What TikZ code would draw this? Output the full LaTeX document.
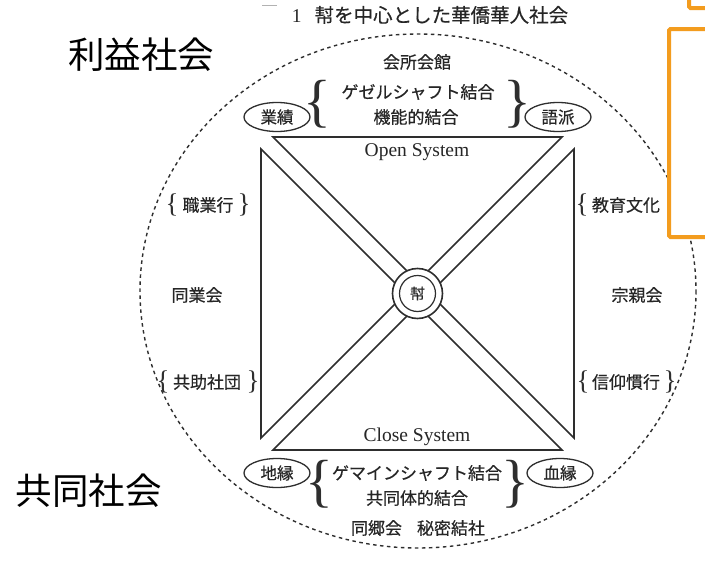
\documentclass[tikz,border=0pt]{standalone}
\usepackage{fontspec}
\newfontfamily\jp[FakeBold=0.4]{Noto Sans CJK JP}
\newfontfamily\jpbig{Noto Sans CJK JP}
\newfontfamily\serifen{Liberation Serif}
\usetikzlibrary{shapes.geometric}
\definecolor{ln}{HTML}{2E2E2E}
\definecolor{txt}{HTML}{262626}
\definecolor{org}{HTML}{F39C1E}
\tikzset{
  lbl/.style={font=\jp\fontsize{17}{19}\selectfont, text=txt, inner sep=0pt},
  big/.style={font=\jpbig\fontsize{36.5}{40}\selectfont, text=black, inner sep=0pt},
  en/.style={font=\serifen\fontsize{19.5}{21}\selectfont, text=txt, inner sep=0pt},
  tri/.style={draw=ln, line width=1.6pt, fill=white, line join=miter},
  oval/.style={draw=ln, line width=1.3pt, ellipse, minimum width=66pt, minimum height=29pt, inner sep=0pt, fill=white, font=\jp\fontsize{16.5}{18}\selectfont, text=txt},
  bigbrace/.style={inner sep=0pt, text=ln, font=\serifen\fontsize{58}{58}\selectfont},
  smallbrace/.style={inner sep=0pt, text=ln, font=\serifen\fontsize{27}{27}\selectfont},
}
\begin{document}
\begin{tikzpicture}[x=1pt,y=-1pt]
\useasboundingbox (0,0) rectangle (705,570);
\clip (0,0) rectangle (705,570);
\fill[white] (0,0) rectangle (705,570);
% dashed outer ellipse
\draw[ln, line width=1.4pt, dash pattern=on 3.5pt off 3.5pt] (418,291) ellipse [x radius=278, y radius=257];
% triangles
\draw[tri] (273,137) -- (562,137) -- (417.5,281.5) -- cycle;
\draw[tri] (273,450) -- (562,450) -- (417.5,305.5) -- cycle;
\draw[tri] (261,149) -- (261,438) -- (405.5,293.5) -- cycle;
\draw[tri] (574,149) -- (574,438) -- (429.5,293.5) -- cycle;
% center circle
\draw[draw=ln, line width=1.6pt, fill=white] (417.5,293.5) circle (25);
\node[draw=ln, line width=1.2pt, circle, minimum size=36pt, inner sep=0pt, text=txt, font=\jp\fontsize{15}{16}\selectfont] (bang) at (417.5,293.5) {幇};
% title
\draw[gray!60, line width=1pt] (262,5) -- (277,5);
\node[inner sep=0pt, text=txt] (title) at (430,15) {{\serifen\fontsize{19.5}{21}\selectfont 1}\hspace{13pt}{\jp\fontsize{19.5}{21}\selectfont 幇を中心とした華僑華人社会}};
% top labels
\node[lbl] (kaisho) at (417,62) {会所会館};
\node[lbl] (gesel) at (418,92) {ゲゼルシャフト結合};
\node[lbl] (kino) at (416,117) {機能的結合};
\node[bigbrace] (tbl) at (317,104) {\{};
\node[bigbrace] (tbr) at (517,104) {\}};
\node[oval] (gyoseki) at (277,117) {業績};
\node[oval] (goha) at (558,117) {語派};
\node[en] (open) at (417,152) {Open System};
% bottom labels
\node[en] (close) at (417,437) {Close System};
\node[oval] (chien) at (277,473) {地縁};
\node[oval] (ketsuen) at (560,473) {血縁};
\node[lbl] (gemein) at (417,473) {ゲマインシャフト結合};
\node[lbl] (kyodo) at (417,498) {共同体的結合};
\node[bigbrace] (bbl) at (319,484) {\{};
\node[bigbrace] (bbr) at (515,484) {\}};
\node[lbl] (dokyo) at (418,528) {同郷会\hspace{15pt}秘密結社};
% left side
\node[smallbrace] (l1a) at (172,205) {\{};
\node[lbl] (shoku) at (208,205) {職業行};
\node[smallbrace] (l1b) at (244,205) {\}};
\node[lbl] (dogyo) at (197,295) {同業会};
\node[smallbrace] (l2a) at (163,382) {\{};
\node[lbl] (kyojo) at (207,382) {共助社団};
\node[smallbrace] (l2b) at (253,382) {\}};
% right side
\node[smallbrace] (r1a) at (582,205) {\{};
\node[lbl] (kyoiku) at (626,205) {教育文化};
\node[smallbrace] (r1b) at (672,205) {\}};
\node[lbl] (shushin) at (637,295) {宗親会};
\node[smallbrace] (r2a) at (583,382) {\{};
\node[lbl] (shinko) at (626,382) {信仰慣行};
\node[smallbrace] (r2b) at (670,382) {\}};
% big labels
\node[big] (rieki) at (141,55) {利益社会};
\node[big] (kyodoshakai) at (89,491) {共同社会};
% orange boxes
\draw[org, line width=4pt, fill=white, rounded corners=1.5pt] (669,29) rectangle (720,237);
\draw[org, line width=4pt, rounded corners=1.5pt] (689,-10) -- (689,8) -- (720,8);
\end{tikzpicture}
\end{document}
